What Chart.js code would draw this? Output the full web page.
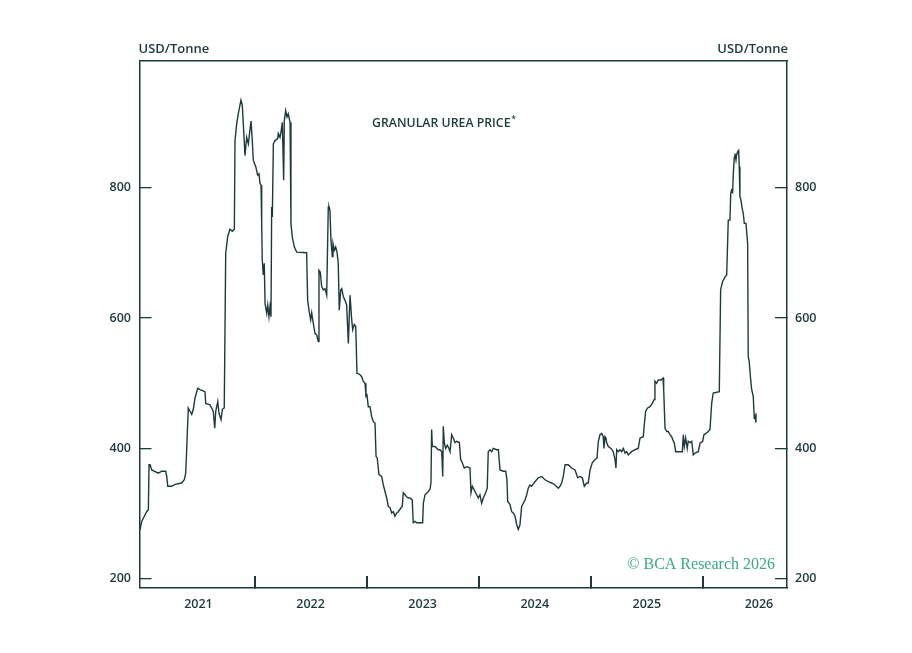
<!DOCTYPE html>
<html>
<head>
<meta charset="utf-8">
<script src="https://cdn.jsdelivr.net/npm/chart.js@4.4.1/dist/chart.umd.min.js"></script>
<style>
  html, body { margin: 0; padding: 0; background: #ffffff; }
</style>
</head>
<body>
<canvas id="ureaChart" width="912" height="653"></canvas>
<script>
// Granular urea price, USD/tonne (x = decimal year)
const years = [
  2020.978, 2020.994, 2021.008, 2021.038, 2021.053, 2021.059, 2021.068, 2021.083, 2021.142, 2021.172,
  2021.208, 2021.217, 2021.226, 2021.261, 2021.291, 2021.350, 2021.374, 2021.386, 2021.395, 2021.409,
  2021.425, 2021.440, 2021.454, 2021.469, 2021.493, 2021.514, 2021.558, 2021.565, 2021.603, 2021.632,
  2021.645, 2021.654, 2021.672, 2021.683, 2021.701, 2021.713, 2021.730, 2021.743, 2021.761, 2021.781,
  2021.802, 2021.820, 2021.826, 2021.841, 2021.855, 2021.879, 2021.891, 2021.900, 2021.915, 2021.930,
  2021.945, 2021.969, 2021.980, 2021.989, 2022.011, 2022.028, 2022.040, 2022.049, 2022.058, 2022.064,
  2022.069, 2022.078, 2022.087, 2022.094, 2022.109, 2022.118, 2022.129, 2022.138, 2022.147, 2022.153,
  2022.159, 2022.168, 2022.183, 2022.207, 2022.212, 2022.227, 2022.236, 2022.248, 2022.260, 2022.266,
  2022.278, 2022.290, 2022.301, 2022.317, 2022.325, 2022.337, 2022.355, 2022.376, 2022.465, 2022.474,
  2022.486, 2022.501, 2022.510, 2022.524, 2022.540, 2022.555, 2022.569, 2022.575, 2022.587, 2022.599,
  2022.614, 2022.629, 2022.644, 2022.658, 2022.664, 2022.673, 2022.682, 2022.694, 2022.700, 2022.712,
  2022.724, 2022.736, 2022.747, 2022.756, 2022.769, 2022.778, 2022.792, 2022.807, 2022.822, 2022.837,
  2022.852, 2022.867, 2022.876, 2022.890, 2022.903, 2022.914, 2022.920, 2022.941, 2022.956, 2022.970,
  2022.986, 2022.994, 2023.003, 2023.015, 2023.030, 2023.045, 2023.060, 2023.075, 2023.084, 2023.095,
  2023.110, 2023.134, 2023.149, 2023.164, 2023.179, 2023.193, 2023.209, 2023.224, 2023.238, 2023.253,
  2023.268, 2023.283, 2023.307, 2023.318, 2023.327, 2023.342, 2023.357, 2023.372, 2023.387, 2023.407,
  2023.416, 2023.432, 2023.447, 2023.500, 2023.506, 2023.521, 2023.550, 2023.565, 2023.574, 2023.580,
  2023.586, 2023.610, 2023.639, 2023.655, 2023.670, 2023.679, 2023.684, 2023.693, 2023.705, 2023.720,
  2023.735, 2023.744, 2023.759, 2023.773, 2023.788, 2023.803, 2023.827, 2023.839, 2023.853, 2023.871,
  2023.895, 2023.922, 2023.931, 2023.943, 2023.967, 2023.996, 2024.011, 2024.026, 2024.041, 2024.062,
  2024.076, 2024.085, 2024.101, 2024.116, 2024.130, 2024.160, 2024.175, 2024.190, 2024.219, 2024.241,
  2024.252, 2024.258, 2024.279, 2024.294, 2024.308, 2024.324, 2024.339, 2024.353, 2024.368, 2024.383,
  2024.398, 2024.413, 2024.428, 2024.442, 2024.457, 2024.472, 2024.502, 2024.531, 2024.562, 2024.591,
  2024.621, 2024.651, 2024.680, 2024.710, 2024.725, 2024.740, 2024.754, 2024.770, 2024.799, 2024.829,
  2024.859, 2024.883, 2024.903, 2024.924, 2024.942, 2024.963, 2024.977, 2024.993, 2025.013, 2025.037,
  2025.055, 2025.067, 2025.082, 2025.097, 2025.111, 2025.117, 2025.126, 2025.135, 2025.141, 2025.156,
  2025.180, 2025.200, 2025.216, 2025.224, 2025.231, 2025.245, 2025.260, 2025.275, 2025.290, 2025.305,
  2025.320, 2025.334, 2025.364, 2025.394, 2025.423, 2025.439, 2025.468, 2025.477, 2025.489, 2025.507,
  2025.528, 2025.548, 2025.566, 2025.572, 2025.587, 2025.602, 2025.626, 2025.644, 2025.650, 2025.662,
  2025.677, 2025.691, 2025.706, 2025.721, 2025.736, 2025.744, 2025.757, 2025.816, 2025.825, 2025.834,
  2025.846, 2025.860, 2025.869, 2025.885, 2025.900, 2025.914, 2025.929, 2025.959, 2025.974, 2025.998,
  2026.009, 2026.027, 2026.048, 2026.063, 2026.078, 2026.092, 2026.146, 2026.158, 2026.167, 2026.176,
  2026.197, 2026.212, 2026.226, 2026.241, 2026.248, 2026.256, 2026.265, 2026.271, 2026.280, 2026.286,
  2026.295, 2026.301, 2026.310, 2026.319, 2026.324, 2026.330, 2026.339, 2026.348, 2026.360, 2026.369,
  2026.384, 2026.399, 2026.404, 2026.413, 2026.426, 2026.435, 2026.449, 2026.458, 2026.464, 2026.471,
  2026.473
];

const prices = [
  275, 288, 293, 303, 306, 375, 375, 367, 362, 365,
  365, 357, 342, 342, 345, 347, 352, 362, 398, 462,
  457, 452, 460, 477, 492, 490, 487, 469, 467, 457,
  431, 457, 472, 454, 444, 460, 462, 699, 725, 736,
  733, 736, 872, 898, 913, 934, 926, 898, 849, 877,
  867, 902, 872, 842, 832, 819, 821, 806, 804, 745,
  689, 666, 684, 622, 607, 620, 602, 617, 602, 770,
  755, 867, 872, 875, 883, 877, 885, 900, 811, 903,
  918, 908, 913, 900, 745, 724, 709, 701, 700, 627,
  612, 597, 608, 592, 576, 574, 564, 673, 670, 648,
  643, 645, 635, 770, 771, 765, 719, 694, 714, 704,
  709, 701, 684, 612, 643, 645, 633, 627, 620, 561,
  635, 597, 582, 590, 587, 515, 515, 513, 510, 503,
  500, 480, 482, 464, 464, 449, 441, 439, 388, 385,
  360, 357, 344, 334, 324, 311, 309, 301, 303, 296,
  301, 303, 309, 311, 332, 329, 326, 324, 324, 321,
  286, 288, 286, 286, 316, 329, 334, 337, 347, 429,
  403, 403, 398, 398, 395, 357, 434, 409, 400, 405,
  400, 395, 421, 416, 409, 411, 409, 383, 378, 370,
  372, 370, 332, 342, 334, 324, 329, 316, 324, 332,
  339, 395, 398, 395, 400, 398, 398, 367, 365, 365,
  352, 319, 314, 303, 301, 296, 283, 276, 283, 311,
  316, 321, 329, 339, 344, 342, 349, 355, 357, 352,
  349, 347, 344, 339, 342, 347, 357, 375, 375, 370,
  367, 355, 357, 355, 342, 347, 347, 367, 378, 383,
  385, 411, 421, 423, 418, 400, 418, 416, 409, 403,
  400, 395, 383, 370, 398, 395, 398, 395, 400, 393,
  395, 390, 395, 398, 400, 416, 418, 436, 457, 462,
  464, 469, 475, 503, 500, 505, 505, 508, 490, 431,
  426, 426, 421, 418, 411, 409, 395, 395, 421, 403,
  416, 400, 411, 409, 411, 390, 393, 395, 408, 411,
  421, 423, 426, 429, 469, 485, 487, 643, 650, 656,
  663, 666, 750, 750, 791, 796, 793, 821, 847, 852,
  842, 850, 855, 857, 832, 786, 781, 770, 760, 745,
  745, 714, 541, 533, 505, 490, 480, 446, 451, 441,
  454
];

const yTicks = [200, 400, 600, 800];
const yearLabels = [2021, 2022, 2023, 2024, 2025, 2026];
const yearBreaks = [2022, 2023, 2024, 2025, 2026];

const X_MIN = 2020.974, X_MAX = 2026.75;
const Y_MIN = 186, Y_MAX = 994;

const INK = '#1d3a3b';
const tickFont = { family: '"Open Sans"', size: 12.5, weight: '600' };

// x ticks: year boundaries carry the tick marks, mid-years carry the labels
const xTicks = yearBreaks.concat(yearLabels.map(y => y + 0.5)).sort((a, b) => a - b);

function yAxis(position, width, pad) {
  return {
    type: 'linear',
    position: position,
    min: Y_MIN,
    max: Y_MAX,
    afterBuildTicks: s => { s.ticks = yTicks.map(v => ({ value: v })); },
    afterFit: s => { s.width = width; },
    grid: { drawOnChartArea: false, drawTicks: true, tickLength: -12, color: INK, lineWidth: 1.3 },
    border: { display: true, color: INK, width: 1.5 },
    ticks: { color: INK, font: tickFont, padding: pad, callback: v => String(v) }
  };
}

const chartText = {
  id: 'chartText',
  afterDraw(chart) {
    const { ctx, chartArea } = chart;
    ctx.save();
    ctx.fillStyle = INK;
    ctx.textBaseline = 'middle';
    ctx.font = '600 13px "Open Sans"';
    ctx.textAlign = 'left';
    ctx.fillText('USD/Tonne', chartArea.left - 1, 49);
    ctx.textAlign = 'right';
    ctx.fillText('USD/Tonne', chartArea.right + 1, 49);

    ctx.textAlign = 'left';
    ctx.font = '600 12.3px "Open Sans"';
    const title = 'GRANULAR UREA PRICE';
    ctx.fillText(title, 372, 123.5);
    const w = ctx.measureText(title).width;
    ctx.font = '600 8px "Open Sans"';
    ctx.fillText('*', 372 + w + 1, 120);

    ctx.fillStyle = '#3aa884';
    ctx.font = '16px "Liberation Serif"';
    ctx.textAlign = 'right';
    ctx.textBaseline = 'alphabetic';
    ctx.fillText('\u00A9 BCA Research 2026', 775, 569);
    ctx.restore();
  }
};

new Chart(document.getElementById('ureaChart'), {
  type: 'line',
  data: {
    datasets: [{
      label: 'Granular urea price',
      data: years.map((x, i) => ({ x: x, y: prices[i] })),
      borderColor: INK,
      borderWidth: 1.4,
      pointRadius: 0,
      tension: 0,
      fill: false,
      xAxisID: 'x',
      yAxisID: 'y'
    }]
  },
  options: {
    responsive: false,
    animation: false,
    layout: { padding: { top: 61, left: 0, right: 0, bottom: 0 } },
    plugins: {
      legend: { display: false },
      tooltip: { enabled: false }
    },
    scales: {
      x: {
        type: 'linear',
        position: 'bottom',
        min: X_MIN,
        max: X_MAX,
        afterBuildTicks: s => { s.ticks = xTicks.map(v => ({ value: v })); },
        afterFit: s => { s.height = 65; },
        grid: {
          drawOnChartArea: false,
          drawTicks: true,
          tickLength: -12,
          lineWidth: 2,
          color: c => (c.tick && Number.isInteger(c.tick.value)) ? INK : 'rgba(0,0,0,0)'
        },
        border: { display: true, color: INK, width: 1.5 },
        ticks: {
          color: INK,
          font: tickFont,
          padding: 21,
          autoSkip: false,
          maxRotation: 0,
          callback: v => Number.isInteger(v) ? '' : String(Math.floor(v))
        }
      },
      xTop: {
        type: 'linear',
        position: 'top',
        min: X_MIN,
        max: X_MAX,
        afterFit: s => { s.height = 0; },
        grid: { display: false, drawTicks: false },
        border: { display: true, color: INK, width: 1.5 },
        ticks: { display: false }
      },
      y: yAxis('left', 139.5, 20.5),
      y2: yAxis('right', 125, 20)
    }
  },
  plugins: [chartText]
});
</script>
</body>
</html>
